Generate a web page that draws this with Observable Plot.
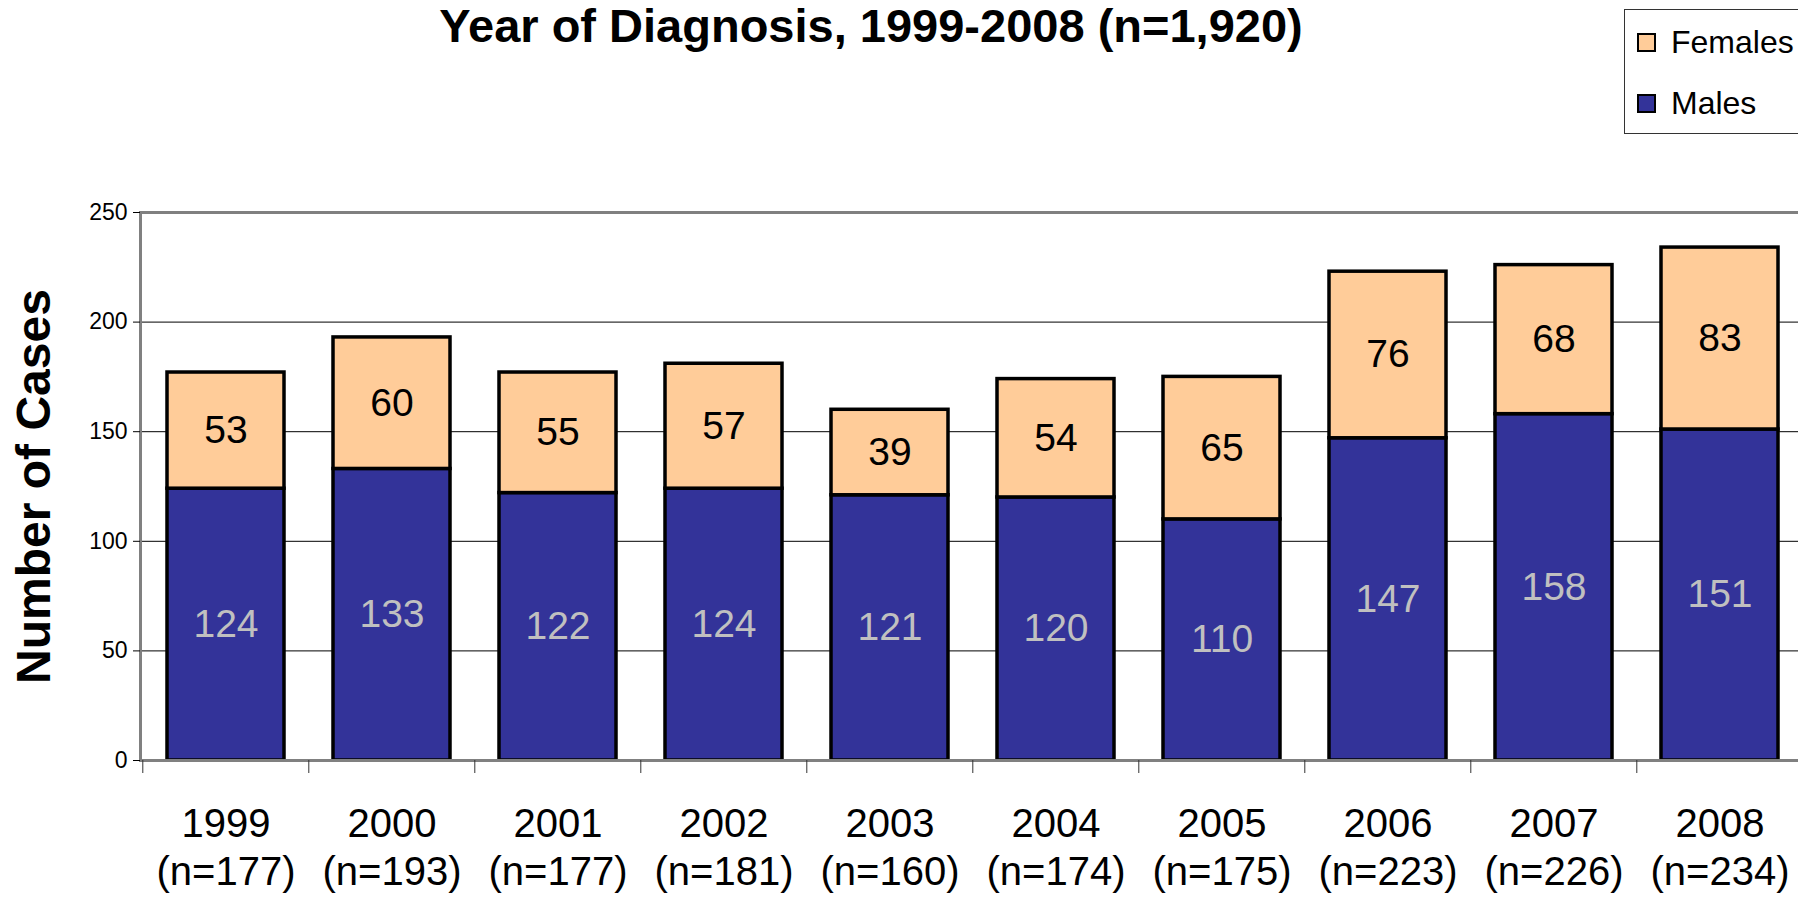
<!DOCTYPE html>
<html><head><meta charset="utf-8">
<script src="https://cdn.jsdelivr.net/npm/d3@7"></script>
<script src="https://cdn.jsdelivr.net/npm/@observablehq/plot@0.6"></script>
<style>
html,body{margin:0;padding:0;background:#fff;overflow:hidden;}
#wrap{position:relative;width:1798px;height:897px;overflow:hidden;font-family:"Liberation Sans",Arial,sans-serif;background:#fff;}
#title{position:absolute;left:0;top:0;width:1742px;height:60px;text-align:center;font-weight:bold;font-size:47px;line-height:52px;color:#000;z-index:2;}
#chart{position:absolute;left:0;top:60px;z-index:1;}
#chart svg{max-width:none !important;}
#legend{position:absolute;left:1624px;top:9px;width:200px;height:125px;border:1.5px solid #333;box-sizing:border-box;background:#fff;z-index:3;}
.item{position:absolute;left:12px;display:flex;align-items:center;font-size:32px;line-height:36px;}
.sw{width:15px;height:15px;border:2px solid #000;margin-right:15px;}
</style></head>
<body>
<div id="wrap">
  <div id="title">Year of Diagnosis, 1999-2008 (n=1,920)</div>
  <div id="legend"></div>
  <div id="chart"></div>
</div>
<script>
const years = ["1999","2000","2001","2002","2003","2004","2005","2006","2007","2008"];
const nLabels = ["(n=177)","(n=193)","(n=177)","(n=181)","(n=160)","(n=174)","(n=175)","(n=223)","(n=226)","(n=234)"];
const males = [124,133,122,124,121,120,110,147,158,151];
const females = [53,60,55,57,39,54,65,76,68,83];
const series = ["Males","Females"];
const colors = ["#333399","#FFCC99"];
const legendOrder = ["Females","Males"];
const yTicks = [0,50,100,150,200,250];
const gridValues = [50,100,150,200];

const rows = [];
years.forEach((y,i)=>{
  rows.push({year:y, sex:"Males", value:males[i], mid:males[i]/2});
  rows.push({year:y, sex:"Females", value:females[i], mid:males[i]+females[i]/2});
});

const W = 1810, ML = 140, MR = 6;
const step = (W-ML-MR)/years.length;

const chart = Plot.plot({
  width: W, height: 837,
  marginTop: 152, marginBottom: 137, marginLeft: ML, marginRight: MR,
  style: {fontFamily: "'Liberation Sans', Arial, sans-serif", background: "white", color: "#000", overflow: "visible", maxWidth: "none"},
  x: {domain: years, paddingInner: 0.297, paddingOuter: 0.1485, label: null},
  y: {domain: [0,250], label: null},
  color: {domain: series, range: colors},
  marks: [
    Plot.ruleY(gridValues, {stroke: "#000", strokeWidth: 1}),
    Plot.barY(rows, Plot.stackY({x: "year", y: "value", fill: "sex", z: "sex", order: series, stroke: "#000", strokeWidth: 3.5})),
    Plot.text(rows.filter(d=>d.sex==="Males"), {x: "year", y: "mid", text: d=>String(d.value), fill: "#C0C0C0", fontSize: 39}),
    Plot.text(rows.filter(d=>d.sex==="Females"), {x: "year", y: "mid", text: d=>String(d.value), fill: "#000", fontSize: 39}),
    Plot.frame({stroke: "#808080", strokeWidth: 3}),
    Plot.axisY({ticks: yTicks, tickSize: 7, tickPadding: 6, fontSize: 23, label: null}),
    Plot.axisX({tickSize: 13, tickFormat: () => "", dx: -step/2, stroke: "#333", label: null}),
    Plot.axisX({tickSize: 0, tickPadding: 42, fontSize: 40, lineHeight: 1.2, tickFormat: (d) => d + "\n" + nLabels[years.indexOf(d)], label: null}),
    Plot.text(["Number of Cases"], {frameAnchor: "left", textAnchor: "middle", dx: -106, rotate: -90, fontSize: 48, fontWeight: "bold"})
  ]
});
document.getElementById("chart").appendChild(chart);

const legend = document.getElementById("legend");
legendOrder.forEach((s,i)=>{
  const it = document.createElement("div");
  it.className = "item";
  it.style.top = (i===0 ? 14 : 75) + "px";
  const sw = document.createElement("div");
  sw.className = "sw";
  sw.style.background = colors[series.indexOf(s)];
  const lab = document.createElement("span");
  lab.textContent = s;
  it.appendChild(sw); it.appendChild(lab);
  legend.appendChild(it);
});
</script>
</body></html>
